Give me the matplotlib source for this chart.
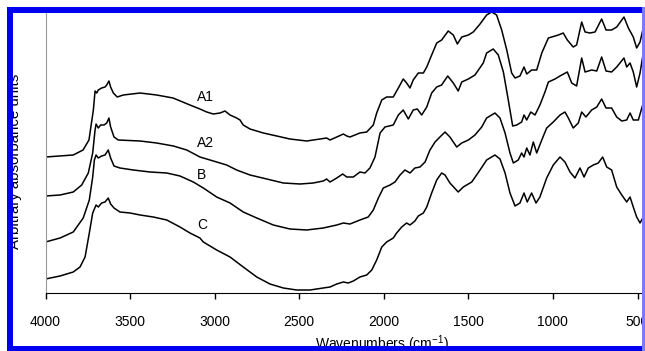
import matplotlib
matplotlib.use('Agg')
import matplotlib.pyplot as plt
from matplotlib.patches import Rectangle

plt.rcParams['font.family'] = ['Liberation Sans', 'DejaVu Sans']
plt.rcParams['mathtext.default'] = 'regular'

# wavenumbers (cm-1) and arbitrary absorbance
wn_a1 = [4000, 3836, 3778, 3743, 3717, 3707, 3697, 3688, 3668, 3648,
         3638, 3625, 3615, 3599, 3576, 3540, 3441, 3343, 3246, 3146,
         3087, 3047, 3008, 2968, 2939, 2909, 2870, 2850, 2831, 2791,
         2712, 2633, 2555, 2456, 2377, 2338, 2318, 2278, 2239, 2219,
         2200, 2141, 2101, 2062, 2042, 2012, 1983, 1944, 1914, 1885,
         1865, 1845, 1826, 1796, 1766, 1746, 1717, 1687, 1658, 1619,
         1589, 1565, 1539, 1500, 1471, 1431, 1392, 1362, 1333, 1303,
         1273, 1244, 1224, 1195, 1171, 1155, 1126, 1096, 1066, 1027,
         1007, 968, 939, 915, 880, 860, 830, 810, 781, 751,
         712, 686, 653, 623, 580, 554, 525, 505, 485, 466]
abs_a1 = [1.36, 1.38, 1.43, 1.53, 1.83, 2.02, 2.00, 2.03, 2.05, 2.06,
          2.08, 2.12, 2.06, 2.00, 1.96, 1.98, 2.00, 1.98, 1.95, 1.88,
          1.84, 1.81, 1.79, 1.80, 1.82, 1.78, 1.75, 1.73, 1.68, 1.64,
          1.60, 1.57, 1.54, 1.52, 1.54, 1.55, 1.53, 1.56, 1.59, 1.57,
          1.56, 1.60, 1.61, 1.68, 1.80, 1.93, 1.96, 1.96, 2.05, 2.14,
          2.10, 2.05, 2.13, 2.20, 2.20, 2.26, 2.38, 2.50, 2.53, 2.62,
          2.58, 2.49, 2.56, 2.58, 2.61, 2.69, 2.78, 2.81, 2.78, 2.63,
          2.43, 2.20, 2.15, 2.17, 2.26, 2.19, 2.23, 2.23, 2.40, 2.55,
          2.56, 2.58, 2.60, 2.53, 2.46, 2.48, 2.71, 2.61, 2.60, 2.61,
          2.74, 2.63, 2.63, 2.66, 2.76, 2.65, 2.56, 2.45, 2.51, 2.65]

wn_a2 = [4000, 3914, 3836, 3786, 3747, 3721, 3707, 3701, 3688, 3674,
         3654, 3638, 3625, 3615, 3595, 3570, 3441, 3343, 3244, 3165,
         3087, 2988, 2929, 2870, 2791, 2692, 2594, 2495, 2417, 2358,
         2338, 2318, 2278, 2243, 2219, 2180, 2141, 2111, 2082, 2052,
         2022, 1993, 1944, 1914, 1885, 1855, 1826, 1802, 1776, 1746,
         1717, 1687, 1658, 1622, 1589, 1560, 1539, 1500, 1461, 1412,
         1392, 1353, 1323, 1293, 1264, 1238, 1214, 1185, 1171, 1155,
         1131, 1106, 1077, 1047, 1027, 988, 948, 915, 889, 860,
         830, 810, 771, 741, 712, 686, 653, 623, 580, 564,
         544, 525, 505, 485, 466]
abs_a2 = [0.97, 0.98, 1.01, 1.08, 1.20, 1.40, 1.63, 1.69, 1.65, 1.68,
          1.68, 1.70, 1.75, 1.66, 1.56, 1.53, 1.52, 1.50, 1.47, 1.43,
          1.36, 1.31, 1.28, 1.23, 1.18, 1.14, 1.10, 1.09, 1.10, 1.12,
          1.14, 1.11, 1.15, 1.19, 1.16, 1.16, 1.21, 1.20, 1.25, 1.36,
          1.60, 1.66, 1.68, 1.78, 1.83, 1.74, 1.83, 1.84, 1.78, 1.86,
          2.00, 2.06, 2.08, 2.17, 2.10, 2.02, 2.11, 2.14, 2.18, 2.30,
          2.40, 2.44, 2.38, 2.21, 1.93, 1.67, 1.68, 1.71, 1.78, 1.73,
          1.81, 1.78, 1.88, 2.01, 2.11, 2.14, 2.18, 2.21, 2.10, 2.07,
          2.35, 2.21, 2.23, 2.22, 2.36, 2.22, 2.21, 2.26, 2.35, 2.26,
          2.30, 2.21, 2.06, 2.20, 2.40]

wn_b = [4000, 3914, 3836, 3777, 3741, 3721, 3711, 3701, 3688, 3668,
        3648, 3629, 3615, 3595, 3560, 3481, 3382, 3283, 3205, 3126,
        3067, 2988, 2909, 2831, 2751, 2653, 2555, 2456, 2358, 2278,
        2239, 2200, 2141, 2092, 2062, 2032, 2003, 1963, 1934, 1904,
        1875, 1845, 1816, 1786, 1756, 1727, 1697, 1668, 1638, 1609,
        1569, 1539, 1500, 1461, 1421, 1392, 1343, 1313, 1283, 1254,
        1234, 1205, 1185, 1171, 1155, 1136, 1116, 1096, 1066, 1037,
        998, 958, 929, 909, 880, 850, 830, 805, 771, 741,
        712, 686, 653, 623, 593, 564, 544, 525, 495, 466]
abs_b = [0.51, 0.55, 0.61, 0.75, 0.93, 1.16, 1.33, 1.38, 1.35, 1.37,
         1.38, 1.43, 1.35, 1.27, 1.25, 1.23, 1.21, 1.20, 1.17, 1.11,
         1.05, 0.96, 0.90, 0.81, 0.75, 0.68, 0.64, 0.63, 0.65, 0.68,
         0.70, 0.69, 0.73, 0.76, 0.83, 0.95, 1.05, 1.08, 1.11, 1.18,
         1.23, 1.20, 1.25, 1.26, 1.31, 1.43, 1.51, 1.56, 1.61, 1.56,
         1.46, 1.50, 1.53, 1.58, 1.66, 1.75, 1.80, 1.75, 1.60, 1.40,
         1.30, 1.33, 1.40, 1.36, 1.45, 1.38, 1.51, 1.40, 1.53, 1.65,
         1.71, 1.78, 1.81, 1.75, 1.65, 1.70, 1.81, 1.76, 1.83, 1.86,
         1.94, 1.85, 1.85, 1.76, 1.72, 1.73, 1.80, 1.73, 1.73, 1.90]

wn_c = [4000, 3914, 3836, 3796, 3766, 3741, 3721, 3701, 3688, 3668,
        3648, 3629, 3615, 3595, 3560, 3500, 3441, 3363, 3283, 3205,
        3146, 3087, 3067, 2988, 2909, 2831, 2751, 2673, 2594, 2515,
        2436, 2358, 2318, 2278, 2239, 2210, 2180, 2141, 2101, 2071,
        2042, 2012, 1983, 1944, 1924, 1894, 1865, 1845, 1816, 1796,
        1766, 1746, 1717, 1687, 1658, 1638, 1609, 1560, 1530, 1480,
        1431, 1392, 1343, 1313, 1283, 1254, 1224, 1195, 1171, 1152,
        1126, 1100, 1077, 1037, 998, 958, 929, 899, 870, 840,
        816, 791, 761, 732, 706, 682, 653, 623, 593, 564,
        544, 525, 505, 485, 466]
abs_c = [0.14, 0.17, 0.21, 0.26, 0.36, 0.60, 0.80, 0.88, 0.86, 0.90,
         0.91, 0.95, 0.89, 0.85, 0.81, 0.80, 0.78, 0.76, 0.73, 0.66,
         0.60, 0.55, 0.51, 0.43, 0.36, 0.26, 0.16, 0.09, 0.05, 0.03,
         0.03, 0.05, 0.06, 0.09, 0.11, 0.10, 0.12, 0.16, 0.18, 0.23,
         0.33, 0.46, 0.51, 0.55, 0.60, 0.66, 0.70, 0.68, 0.72, 0.77,
         0.80, 0.86, 1.00, 1.13, 1.20, 1.18, 1.10, 1.01, 1.06, 1.11,
         1.23, 1.33, 1.38, 1.34, 1.20, 1.00, 0.87, 0.90, 1.00, 0.91,
         1.00, 0.90, 0.96, 1.15, 1.28, 1.36, 1.31, 1.21, 1.15, 1.25,
         1.16, 1.25, 1.28, 1.30, 1.36, 1.26, 1.23, 1.06, 0.98, 0.91,
         0.96, 0.86, 0.76, 0.70, 0.76]

curve_names = ['A1', 'A2', 'B', 'C']
label_wn = 3104
label_abs = [1.96, 1.50, 1.18, 0.68]
x_ticks = [4000, 3500, 3000, 2500, 2000, 1500, 1000, 500]

fig = plt.figure(figsize=(6.45, 3.51), dpi=100)
ax = fig.add_axes([45.5 / 645, 58 / 351, 599.5 / 645, 282 / 351])

for wn, ab in [(wn_a1, abs_a1), (wn_a2, abs_a2), (wn_b, abs_b), (wn_c, abs_c)]:
    ax.plot(wn, ab, color='black', lw=1.1)

for name, yv in zip(curve_names, label_abs):
    ax.text(label_wn, yv, name, ha='left', va='center', fontsize=10)

ax.set_xlim(4000, 455.7)
ax.set_ylim(0, 2.82)
ax.set_xticks(x_ticks)
ax.set_yticks([])
ax.tick_params(axis='x', direction='out', length=4.5, width=1, pad=11, labelsize=10)
ax.spines['top'].set_visible(False)
ax.spines['right'].set_visible(False)
ax.spines['left'].set_color('#9a9a9a')
ax.spines['bottom'].set_color('black')

# the original crop cuts the x label and the last tick label
fig.text(382 / 645, 1 - 344 / 351, 'Wavenumbers (cm$^{-1}$)', ha='center', va='center', fontsize=10)
fig.text(15 / 645, 1 - 161 / 351, 'Arbitrary absorbance units', rotation=90,
         ha='center', va='center', fontsize=10.8)

# blue frame around the cropped figure
blue = '#0000f0'
W, H = 645, 351
frame = [
    (7, 7, W - 7, 6, blue),        # top
    (7, 7, 6, H - 7, blue),        # left
    (7, H - 5, W - 7, 5, blue),    # bottom
    (W - 3, 7, 3, H - 7, '#7a7aff'),  # right
]
for x0, y0, w, h, col in frame:
    fig.add_artist(Rectangle((x0 / W, 1 - (y0 + h) / H), w / W, h / H,
                             transform=fig.transFigure, facecolor=col,
                             edgecolor='none', zorder=10))

fig.savefig('out.png', dpi=100)
